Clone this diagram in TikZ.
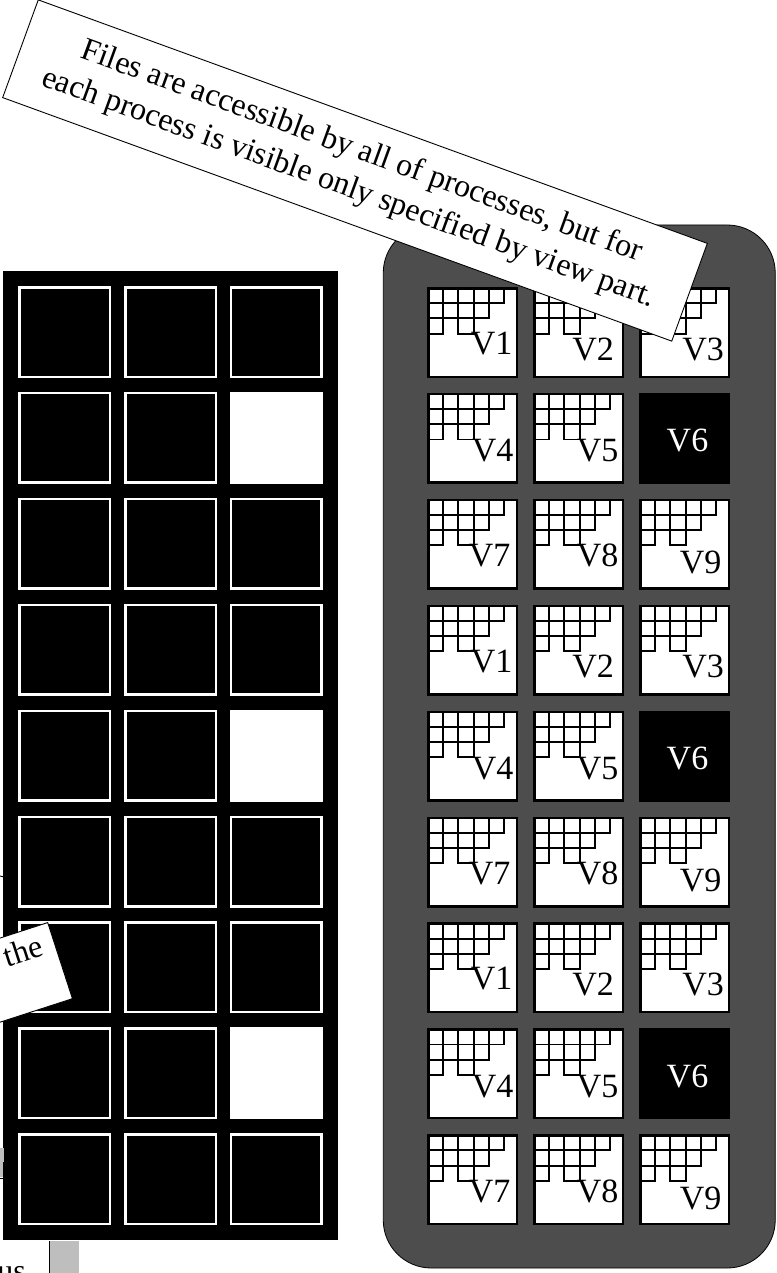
\documentclass[tikz,border=0pt]{standalone}
\usepackage{fontspec}
\setmainfont{Liberation Serif}
\definecolor{panelgray}{RGB}{77,77,77}
\definecolor{patchgray}{RGB}{190,190,190}
\begin{document}
\begin{tikzpicture}[x=1pt,y=-1pt,
  lcell/.style={draw=white, line width=2.5pt, fill=black, minimum width=90.5pt, minimum height=89.5pt, inner sep=0pt},
  lwhite/.style={draw=white, line width=2.5pt, fill=white, minimum width=90.5pt, minimum height=89.5pt, inner sep=0pt},
  rcell/.style={draw=black, line width=2.5pt, fill=white, minimum size=88.5pt, inner sep=0pt},
  rblack/.style={draw=black, line width=2.5pt, fill=black, minimum size=88.5pt, inner sep=0pt},
  vlabel/.style={font=\fontsize{34}{34}\selectfont, inner sep=0pt},
  stair/.style={line width=1.9pt},
  note/.style={draw=black, line width=0.9pt, fill=white, inner sep=0pt}]
\useasboundingbox (0,0) rectangle (776,1273);
\clip (0,0) rectangle (776,1273);

% left black panel
\node[fill=black, minimum width=335pt, minimum height=969pt, inner sep=0pt] (lpanel) at (170.5,755.5) {};
\foreach \r in {0,...,8} {
  \pgfmathsetmacro{\cy}{332+105.9*\r}
  \pgfmathtruncatemacro{\m}{mod(\r,3)}
  \foreach \c/\cx in {0/64.5,1/170.5,2/276} {
    \ifnum\c=2
      \ifnum\m=1
        \node[lwhite] (L-\r-\c) at (\cx,\cy) {};
      \else
        \node[lcell] (L-\r-\c) at (\cx,\cy) {};
      \fi
    \else
      \node[lcell] (L-\r-\c) at (\cx,\cy) {};
    \fi
  }
}

% right gray panel
\node[draw=black, line width=0.8pt, fill=panelgray, rounded corners=48pt, minimum width=392pt, minimum height=1043pt, inner sep=0pt] (rpanel) at (579.25,746.5) {};
\foreach \r in {0,...,8} {
  \pgfmathsetmacro{\cy}{332.5+105.9*\r}
  \pgfmathtruncatemacro{\m}{mod(\r,3)}
  \foreach \c/\cx in {0/472.5,1/578.5,2/684.5} {
    \pgfmathtruncatemacro{\v}{3*\m+\c+1}
    \ifnum\v=6
      \node[rblack] (R-\r-\c) at (\cx,\cy) {};
      \node[vlabel, text=white] (lab-\r-\c) at (\cx+3,\cy+2.5) {V6};
    \else
      \node[rcell] (R-\r-\c) at (\cx,\cy) {};
      \foreach \i/\j in {0/0,1/0,2/0,3/0,4/0,0/1,1/1,2/1,3/1,0/2,2/2}
        \draw[stair] (\cx-44.5+15.2*\i,\cy-44.5+15.2*\j) rectangle ++(15.2,15.2);
      \edef\dx{\ifcase\v\or 40\or 35.5\or 39.5\or 41\or 40\or 0\or 38\or 40\or 37\fi}
      \edef\dy{\ifcase\v\or 11\or 16.5\or 16.5\or 12.5\or 12.5\or 0\or 11.5\or 11.5\or 18.5\fi}
      \node[vlabel, anchor=east] (lab-\r-\c) at (\cx+\dx,\cy+\dy) {V\v};
    \fi
  }
}

% top note
\node[note, rotate=-20, minimum width=712pt, minimum height=104pt, align=center,
      font=\fontsize{32}{39}\selectfont] (filesnote) at (355,170.5)
  {Files are accessible by all of processes, but for\\each process is visible only specified by view part.};

% partial note at left
\node[note, rotate=18, anchor=north east, minimum width=300pt, minimum height=80pt] (thenote) at (48,922) {};
\node[font=\fontsize{32}{32}\selectfont, rotate=18, inner sep=0pt] (thetext) at (23,951) {the};

% fragments at the left and bottom edges
\coordinate (fragA) at (0,876);
\coordinate (fragB) at (4,877);
\draw[line width=0.9pt] (fragA) -- (fragB);
\fill[patchgray] (0,1148) rectangle (3.5,1177);
\draw[line width=0.9pt] (3.5,1162) -- (3.5,1178) -- (0,1178);
\fill[patchgray] (49,1241) rectangle (79,1273);
\draw[line width=1.2pt] (49.5,1241) -- (49.5,1273);
\node[font=\fontsize{32}{32}\selectfont, anchor=base east, inner sep=0pt] (ustext) at (26,1281) {us};
\end{tikzpicture}
\end{document}
